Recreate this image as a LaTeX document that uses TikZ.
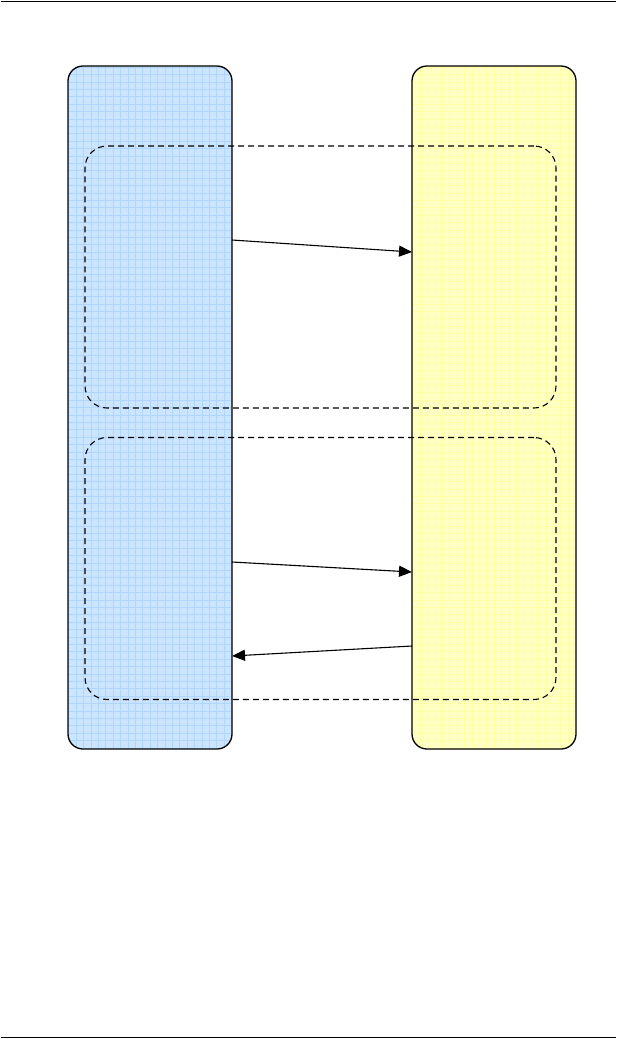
\documentclass[tikz,border=0pt]{standalone}
\usetikzlibrary{arrows.meta}
\definecolor{laneblue}{HTML}{CCE5FF}
\definecolor{gridblue}{HTML}{B0D5FF}
\definecolor{laneyellow}{HTML}{FFFFC4}
\definecolor{gridyellow}{HTML}{FFFFA6}
\tikzset{
  lane/.style={draw=black, line width=1.3pt, rounded corners=15pt, minimum width=164pt, minimum height=683pt, inner sep=0pt, outer sep=0pt},
  blueLane/.style={lane, fill=laneblue, path picture={\draw[gridblue, line width=0.6pt, step=7.4pt] (path picture bounding box.south west) grid (path picture bounding box.north east);}},
  yellowLane/.style={lane, fill=laneyellow, path picture={\draw[gridyellow, line width=0.6pt, step=7.4pt] (path picture bounding box.south west) grid (path picture bounding box.north east);}},
  group/.style={draw=black, line width=1.1pt, dash pattern=on 6pt off 4pt, rounded corners=22pt, minimum width=471pt, minimum height=262pt, inner sep=0pt, outer sep=0pt},
  msg/.style={draw=black, line width=1.1pt, -{Triangle[length=13pt,width=11pt]}},
  rule/.style={draw=black, line width=1.5pt}
}
\begin{document}
\begin{tikzpicture}[x=1pt,y=-1pt]
\useasboundingbox (0,0) rectangle (617,1039);
\coordinate (tl) at (1,1.5);
\coordinate (tr) at (616,1.5);
\coordinate (bl) at (1,1037.5);
\coordinate (br) at (616,1037.5);
\draw[rule] (tl) -- (tr);
\draw[rule] (bl) -- (br);
\node[blueLane] (L) at (150,407.5) {};
\node[yellowLane] (R) at (494,407.5) {};
\node[group] (G1) at (320.5,277) {};
\node[group] (G2) at (320.5,568.5) {};
\draw[msg] (L.east |- 0,240) -- (R.west |- 0,252);
\draw[msg] (L.east |- 0,562) -- (R.west |- 0,572);
\draw[msg] (R.west |- 0,646) -- (L.east |- 0,656);
\end{tikzpicture}
\end{document}
